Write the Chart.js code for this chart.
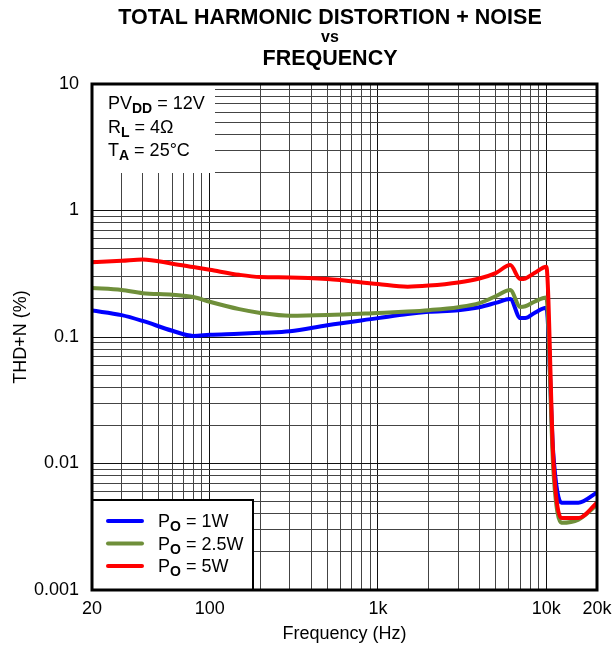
<!DOCTYPE html>
<html>
<head>
<meta charset="utf-8">
<script src="https://cdn.jsdelivr.net/npm/chart.js@4/dist/chart.umd.min.js"></script>
<style>
  html, body { margin: 0; padding: 0; background: #fff; }
  #wrap { width: 615px; height: 648px; position: relative; }
</style>
</head>
<body>
<div id="wrap"><canvas id="thd-chart" width="615" height="648"></canvas></div>
<script>
var freqHz = [20, 30, 40, 60, 80, 100, 150, 200, 300, 500, 1000, 1500, 2000, 3000, 4000, 5000, 6100, 7000, 7500, 8500, 10000, 11000, 12300, 15500, 20000];
var thdPo1W = [0.162, 0.149, 0.134, 0.112, 0.102, 0.104, 0.106, 0.108, 0.111, 0.124, 0.141, 0.152, 0.158, 0.163, 0.172, 0.186, 0.20, 0.141, 0.141, 0.155, 0.17, 0.012, 0.0049, 0.0049, 0.0059];
var thdPo25W = [0.244, 0.235, 0.222, 0.216, 0.207, 0.19, 0.166, 0.155, 0.147, 0.149, 0.155, 0.159, 0.163, 0.172, 0.185, 0.21, 0.235, 0.173, 0.175, 0.19, 0.205, 0.009, 0.0034, 0.0036, 0.0047];
var thdPo5W = [0.39, 0.40, 0.41, 0.38, 0.357, 0.34, 0.31, 0.298, 0.296, 0.287, 0.262, 0.25, 0.255, 0.27, 0.29, 0.32, 0.37, 0.287, 0.29, 0.32, 0.36, 0.011, 0.0037, 0.0037, 0.0049];

var xTickLabels = { 20: '20', 100: '100', 1000: '1k', 10000: '10k', 20000: '20k' };
var yTickLabels = { 0.001: '0.001', 0.01: '0.01', 0.1: '0.1', 1: '1', 10: '10' };

var FONT = '"Liberation Sans", Arial, sans-serif';

function toPoints(vals) {
    return freqHz.map(function (f, i) { return { x: f, y: vals[i] }; });
}

// 1..9 per decade grid positions
function decadeTicks(min, max) {
    var out = [];
    for (var e = Math.floor(Math.log10(min)); e <= Math.ceil(Math.log10(max)); e++) {
        for (var m = 1; m <= 9; m++) {
            var v = parseFloat((m * Math.pow(10, e)).toPrecision(3));
            if (v >= min - 1e-12 && v <= max + 1e-9) out.push(v);
        }
    }
    return out;
}

function isMajor(v, labels) {
    var k;
    for (k in labels) { if (Math.abs(parseFloat(k) - v) / v < 1e-6) return labels[k]; }
    return null;
}

function drawSubText(ctx, x, y, parts) {
    // parts: [text, sub, rest]
    ctx.font = '18px ' + FONT;
    ctx.fillText(parts[0], x, y);
    x += ctx.measureText(parts[0]).width;
    ctx.font = 'bold 14px ' + FONT;
    ctx.fillText(parts[1], x, y + 4);
    x += ctx.measureText(parts[1]).width;
    ctx.font = '18px ' + FONT;
    ctx.fillText(parts[2], x, y);
}

var decorPlugin = {
    id: 'decor',
    beforeDatasetsDraw: function (chart) {
        var ctx = chart.ctx;
        var a = chart.chartArea;
        ctx.save();
        // condition box masks the grid
        ctx.fillStyle = '#fff';
        ctx.fillRect(a.left, a.top, 123, 89);
        ctx.fillStyle = '#000';
        ctx.textBaseline = 'alphabetic';
        ctx.textAlign = 'left';
        drawSubText(ctx, a.left + 16, a.top + 25, ['PV', 'DD', ' = 12V']);
        drawSubText(ctx, a.left + 16, a.top + 49, ['R', 'L', ' = 4\u03A9']);
        drawSubText(ctx, a.left + 16, a.top + 72, ['T', 'A', ' = 25\u00B0C']);
        ctx.restore();
    },
    afterDatasetsDraw: function (chart) {
        var ctx = chart.ctx;
        var a = chart.chartArea;
        ctx.save();
        // legend box
        var bx = a.left, by = a.bottom - 91, bw = 162, bh = 91;
        ctx.fillStyle = '#fff';
        ctx.fillRect(bx, by, bw, bh);
        ctx.strokeStyle = '#000';
        ctx.lineWidth = 2;
        ctx.strokeRect(bx, by + 1, bw - 1, bh - 1);
        var items = [['1W', '#0000ff'], ['2.5W', '#6f8f3a'], ['5W', '#ff0000']];
        items.forEach(function (it, i) {
            var ly = by + 22 + i * 22.5;
            ctx.strokeStyle = it[1];
            ctx.lineWidth = 4;
            ctx.lineCap = 'round';
            ctx.beginPath();
            ctx.moveTo(bx + 16, ly);
            ctx.lineTo(bx + 50, ly);
            ctx.stroke();
            ctx.fillStyle = '#000';
            ctx.textBaseline = 'alphabetic';
            drawSubText(ctx, bx + 66, ly + 6, ['P', 'O', ' = ' + it[0]]);
        });
        // plot frame
        ctx.lineCap = 'butt';
        ctx.strokeStyle = '#000';
        ctx.lineWidth = 3;
        ctx.strokeRect(a.left, a.top, a.right - a.left, a.bottom - a.top);
        ctx.restore();
    },
    afterDraw: function (chart) {
        var ctx = chart.ctx;
        ctx.save();
        ctx.fillStyle = '#000';
        ctx.textAlign = 'center';
        ctx.textBaseline = 'alphabetic';
        ctx.font = 'bold 21.5px ' + FONT;
        ctx.fillText('TOTAL HARMONIC DISTORTION + NOISE', 330, 24);
        ctx.font = 'bold 16px ' + FONT;
        ctx.fillText('vs', 330, 42);
        ctx.font = 'bold 21.5px ' + FONT;
        ctx.fillText('FREQUENCY', 330, 65);
        ctx.restore();
    }
};

var ctx = document.getElementById('thd-chart').getContext('2d');
new Chart(ctx, {
    type: 'line',
    data: {
        datasets: [
            { label: 'PO = 5W', data: toPoints(thdPo5W), borderColor: '#ff0000', order: 0 },
            { label: 'PO = 2.5W', data: toPoints(thdPo25W), borderColor: '#6f8f3a', order: 1 },
            { label: 'PO = 1W', data: toPoints(thdPo1W), borderColor: '#0000ff', order: 2 }
        ]
    },
    options: {
        responsive: false,
        animation: false,
        devicePixelRatio: 1,
        layout: { padding: { top: 84, right: 18, left: 0, bottom: 0 } },
        elements: {
            point: { radius: 0 },
            line: { borderWidth: 4, cubicInterpolationMode: 'monotone', borderJoinStyle: 'round', borderCapStyle: 'round' }
        },
        plugins: { legend: { display: false }, tooltip: { enabled: false }, title: { display: false } },
        scales: {
            x: {
                type: 'logarithmic',
                min: 20,
                max: 20000,
                afterBuildTicks: function (scale) {
                    scale.ticks = decadeTicks(20, 20000).filter(function (v) { return v >= 20; }).map(function (v) { return { value: v }; });
                },
                afterFit: function (scale) {
                    scale.height = 58;
                    scale.paddingLeft = 0;
                    scale.paddingRight = 0;
                },
                grid: {
                    drawTicks: false,
                    color: function (c) { return isMajor(c.tick.value, { 100: 1, 1000: 1, 10000: 1 }) ? '#111' : '#444'; },
                    lineWidth: 1
                },
                border: { display: false },
                ticks: {
                    autoSkip: false,
                    maxRotation: 0,
                    padding: 8,
                    color: '#000',
                    font: { family: FONT, size: 18 },
                    callback: function (v) { return isMajor(v, xTickLabels) || ''; }
                },
                title: { display: true, text: 'Frequency (Hz)', color: '#000', font: { family: FONT, size: 18 }, padding: { top: 2, bottom: 3 } }
            },
            y: {
                type: 'logarithmic',
                min: 0.001,
                max: 10,
                afterBuildTicks: function (scale) {
                    scale.ticks = decadeTicks(0.001, 10).map(function (v) { return { value: v }; });
                },
                afterFit: function (scale) {
                    scale.width = 92;
                    scale.paddingTop = 0;
                    scale.paddingBottom = 0;
                },
                grid: {
                    drawTicks: false,
                    color: function (c) { return isMajor(c.tick.value, yTickLabels) ? '#111' : '#444'; },
                    lineWidth: 1
                },
                border: { display: false },
                ticks: {
                    autoSkip: false,
                    padding: 13,
                    color: '#000',
                    font: { family: FONT, size: 18 },
                    callback: function (v) { return isMajor(v, yTickLabels) || ''; }
                },
                title: { display: true, text: 'THD+N (%)', color: '#000', font: { family: FONT, size: 18 }, padding: { top: 10, bottom: 4 } }
            }
        }
    },
    plugins: [decorPlugin]
});
</script>
</body>
</html>
